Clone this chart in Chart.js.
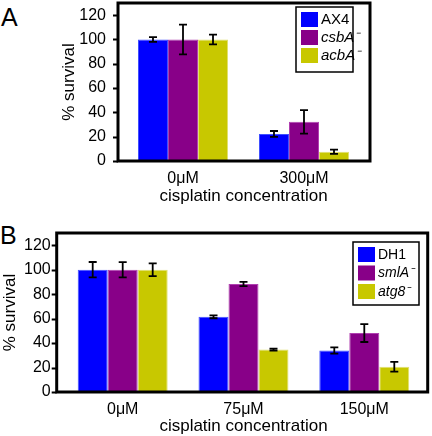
<!DOCTYPE html>
<html>
<head>
  <title>cisplatin survival</title>
  <style>
    body { margin: 0; width: 432px; height: 436px; background: #fff; position: relative; overflow: hidden; font-family: 'Liberation Sans', Arial, sans-serif; }
    .panel { position: absolute; left: 0; width: 432px; }
    .letter { position: absolute; font-size: 25px; color: #000; line-height: 1; }
  </style>
</head>
<body>
  <div class="letter" style="left:1px; top:5px;">A</div>
  <div class="letter" style="left:0px; top:223px;">B</div>
  <div class="panel" style="top:0; height:210px;"><canvas id="chartA" width="432" height="210"></canvas></div>
  <div class="panel" style="top:210px; height:226px;"><canvas id="chartB" width="432" height="226"></canvas></div>

  <script src="https://cdn.jsdelivr.net/npm/chart.js"></script>
  <script>
    // panel A data
    const labelsA = ['0\u03BCM', '300\u03BCM'];
    const ax4 = [100, 22.3];
    const ax4Err = [2, 2.4];
    const csbA = [100, 32.2];
    const csbAErr = [12.2, 9.6];
    const acbA = [100, 7.6];
    const acbAErr = [4, 1.7];

    // panel B data
    const labelsB = ['0\u03BCM', '75\u03BCM', '150\u03BCM'];
    const dh1 = [100, 61.5, 33.9];
    const dh1Err = [6.3, 1.2, 2.6];
    const smlA = [100, 88.3, 48.2];
    const smlAErr = [6.2, 1.7, 7.3];
    const atg8 = [100, 34.7, 20.6];
    const atg8Err = [5.2, 0.8, 4];

    const yTicks = [0, 20, 40, 60, 80, 100, 120];

    const BLUE = '#0000ff', PURPLE = '#880088', OLIVE = '#c8c800';
    const FONT = "'Liberation Sans', Arial, sans-serif";

    // error bars + frame (a bit wider than the plot area) + boxed legend
    const extras = {
      id: 'extras',
      afterDatasetsDraw(chart, args, opts) {
        const ctx = chart.ctx;
        const y = chart.scales.y;
        ctx.save();
        ctx.strokeStyle = '#000';
        ctx.lineWidth = 1.8;
        chart.data.datasets.forEach((ds, i) => {
          const meta = chart.getDatasetMeta(i);
          meta.data.forEach((bar, j) => {
            const v = ds.data[j], e = ds.err[j];
            const top = y.getPixelForValue(v + e), bot = y.getPixelForValue(v - e);
            const x = bar.x;
            ctx.beginPath();
            ctx.moveTo(x, top); ctx.lineTo(x, bot);
            ctx.moveTo(x - 4, top); ctx.lineTo(x + 4, top);
            ctx.moveTo(x - 4, bot); ctx.lineTo(x + 4, bot);
            ctx.stroke();
          });
        });
        // frame
        const a = chart.chartArea;
        const fl = a.left - opts.exL, fr = a.right + opts.exR;
        ctx.lineWidth = 3;
        ctx.strokeRect(fl, a.top, fr - fl, a.bottom - a.top);
        // y tick marks on the frame
        ctx.lineWidth = 2;
        ctx.beginPath();
        y.ticks.forEach(t => {
          const py = Math.round(y.getPixelForValue(t.value)) + 0.5;
          ctx.moveTo(fl - 5, py); ctx.lineTo(fl, py);
        });
        ctx.stroke();
        // legend
        const L = opts.box;
        ctx.lineWidth = 1.5;
        ctx.fillStyle = '#fff';
        ctx.fillRect(L.x, L.y, L.w, L.h);
        ctx.strokeRect(L.x, L.y, L.w, L.h);
        chart.data.datasets.forEach((ds, i) => {
          const ry = L.y + L.first + i * L.step;
          ctx.fillStyle = ds.backgroundColor;
          ctx.fillRect(L.x + 5, ry - 7, 17, 15);
          ctx.fillStyle = '#000';
          ctx.font = (i === 0 ? '' : 'italic ') + L.font + 'px ' + FONT;
          ctx.textBaseline = 'middle';
          ctx.fillText(ds.label, L.x + 25, ry + 1);
        });
        ctx.restore();
      }
    };

    function makeChart(id, labels, sets, o) {
      const cols = [BLUE, PURPLE, OLIVE];
      const edges = ['#4050ff', '#b040b0', '#e0e070'];
      new Chart(document.getElementById(id), {
        type: 'bar',
        data: {
          labels: labels,
          datasets: sets.map((s, i) => ({
            label: s.label,
            data: s.data,
            err: s.err,
            backgroundColor: cols[i],
            borderColor: edges[i],
            borderWidth: 1,
            barPercentage: 1,
            categoryPercentage: o.catPct
          }))
        },
        options: {
          responsive: false,
          animation: false,
          layout: { padding: o.pad },
          plugins: {
            legend: { display: false },
            tooltip: { enabled: false },
            extras: { box: o.legend, exL: o.exL, exR: o.exR }
          },
          scales: {
            x: {
              grid: { display: false, drawTicks: false },
              border: { display: false },
              ticks: { color: '#000', font: { family: FONT, size: 16 }, padding: o.xTickPad },
              title: { display: true, text: 'cisplatin concentration', color: '#000', font: { family: FONT, size: 17, lineHeight: 1 }, padding: 0 },
              afterFit(s) { s.height = o.xHeight; s.paddingLeft = 0; s.paddingRight = 0; }
            },
            y: {
              min: 0, max: 130,
              afterBuildTicks(s) { s.ticks = yTicks.map(v => ({ value: v })); },
              grid: { display: false, drawTicks: false },
              border: { display: false },
              ticks: { color: '#000', font: { family: FONT, size: 16 }, padding: o.yTickPad },
              title: { display: true, text: '% survival', color: '#000', font: { family: FONT, size: 17, lineHeight: 1 }, padding: 0 },
              afterFit(s) { s.width = o.yWidth; s.paddingTop = 0; s.paddingBottom = 0; }
            }
          }
        },
        plugins: [extras]
      });
    }

    makeChart('chartA', labelsA, [
      { label: 'AX4', data: ax4, err: ax4Err },
      { label: 'csbA\u207B', data: csbA, err: csbAErr },
      { label: 'acbA\u207B', data: acbA, err: acbAErr }
    ], {
      catPct: 0.744,
      pad: { left: 61, right: 67.5, top: 3, bottom: 5 },
      yWidth: 61.5, xHeight: 44, xTickPad: 8, yTickPad: 16.5,
      exL: 4.5, exR: 5.5,
      legend: { x: 296, y: 7, w: 57, h: 65, first: 12, step: 18, font: 15 }
    });

    makeChart('chartB', labelsB, [
      { label: 'DH1', data: dh1, err: dh1Err },
      { label: 'smlA\u207B', data: smlA, err: smlAErr },
      { label: 'atg8\u207B', data: atg8, err: atg8Err }
    ], {
      catPct: 0.745,
      pad: { left: 2, right: 7.3, top: 23, bottom: 1 },
      yWidth: 60.3, xHeight: 43, xTickPad: 8, yTickPad: 11.6,
      exL: 5.6, exR: 3,
      legend: { x: 353, y: 32, w: 66, h: 63, first: 12, step: 18.5, font: 14 }
    });
  </script>
</body>
</html>
